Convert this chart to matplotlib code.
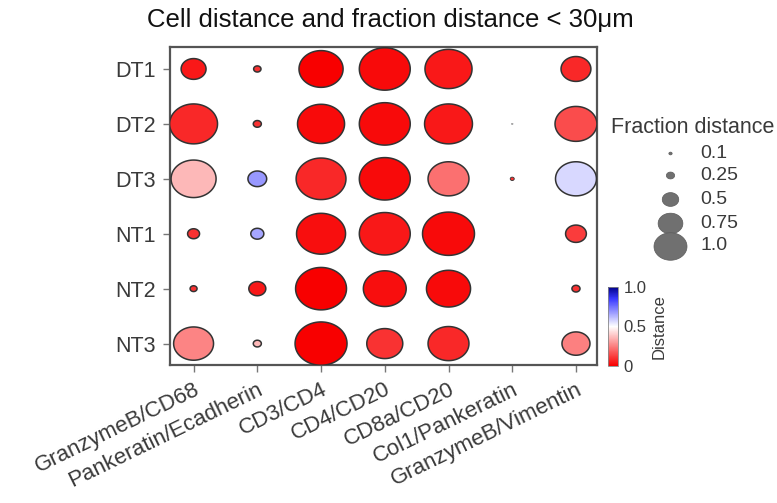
import numpy as np
import matplotlib
matplotlib.use("Agg")
import matplotlib.pyplot as plt
from matplotlib.path import Path
from matplotlib.colors import LinearSegmentedColormap, Normalize
from matplotlib.colorbar import ColorbarBase

plt.rcParams['font.family'] = ['Liberation Sans', 'DejaVu Sans']

pairs = ["GranzymeB/CD68", "Pankeratin/Ecadherin", "CD3/CD4", "CD4/CD20",
         "CD8a/CD20", "Col1/Pankeratin", "GranzymeB/Vimentin"]
samples = ["DT1", "DT2", "DT3", "NT1", "NT2", "NT3"]

# fraction of cells within 30 µm (marker size), rows = samples, cols = pairs
fraction = [
    [0.23, 0.020, 0.72, 0.96, 0.82, 0.000, 0.33],
    [0.85, 0.024, 0.82, 0.96, 0.85, 0.001, 0.65],
    [0.75, 0.130, 0.92, 0.96, 0.62, 0.006, 0.62],
    [0.053, 0.063, 0.89, 0.96, 1.00, 0.000, 0.16],
    [0.018, 0.107, 0.96, 0.68, 0.72, 0.000, 0.024],
    [0.59, 0.024, 1.00, 0.48, 0.62, 0.000, 0.29],
]
# normalised distance (marker colour)
distance = [
    [0.05, 0.10, 0.00, 0.02, 0.05, 0.50, 0.08],
    [0.08, 0.10, 0.02, 0.02, 0.05, 0.50, 0.15],
    [0.36, 0.68, 0.08, 0.02, 0.22, 0.10, 0.57],
    [0.10, 0.66, 0.03, 0.05, 0.02, 0.50, 0.12],
    [0.10, 0.05, 0.00, 0.03, 0.02, 0.50, 0.10],
    [0.26, 0.36, 0.00, 0.10, 0.08, 0.50, 0.25],
]
legend_values = [0.1, 0.25, 0.5, 0.75, 1.0]
legend_labels = ["0.1", "0.25", "0.5", "0.75", "1.0"]

cmap = LinearSegmentedColormap.from_list(
    "rwb", [(0, "#f80000"), (0.5, "#ffffff"), (0.85, "#3a3aff"), (1.0, "#000088")])
norm = Normalize(0, 1)

# elliptical marker (reference is horizontally stretched)
t = np.linspace(0, 2 * np.pi, 100)
ell = Path(np.column_stack([np.cos(t), np.sin(t) / 1.2]), closed=True)

fig = plt.figure(figsize=(7.77, 5.03), dpi=100)
ax = fig.add_axes([170 / 777, 1 - 365 / 503, 427 / 777, 318 / 503])

frac = np.array(fraction)
dist = np.array(distance)
xs, ys, ss, cs, lws = [], [], [], [], []
for i, s in enumerate(samples):
    for j, p in enumerate(pairs):
        if frac[i, j] <= 0:
            continue
        xs.append(j)
        ys.append(i)
        ss.append(frac[i, j] * 1400)
        cs.append(dist[i, j])
        lws.append(float(np.clip(np.sqrt(frac[i, j]) * 8, 0.1, 1.1)))
ax.scatter(xs, ys, s=ss, c=cs, cmap=cmap, norm=norm, marker=ell,
           edgecolors="#333333", linewidths=lws, zorder=3)

ax.set_xlim(-0.37, 6.33)
ax.set_ylim(5.39, -0.4)
ax.set_xticks(range(len(pairs)))
ax.set_xticklabels(pairs, rotation=26, ha="right", rotation_mode="anchor",
                   fontsize=16, color="#3a3a3a")
ax.set_yticks(range(len(samples)))
ax.set_yticklabels(samples, fontsize=15.5, color="#3a3a3a")
ax.tick_params(axis="both", length=5, width=1, color="#777777", pad=5)
for sp in ax.spines.values():
    sp.set_color("#555555")
    sp.set_linewidth(1.6)

fig.text(390 / 777, 1 - 20 / 503, "Cell distance and fraction distance < 30μm",
         ha="center", va="center", fontsize=18.5, color="#111111")

# colorbar
cax = fig.add_axes([608 / 777, 1 - 366 / 503, 10 / 777, 79 / 503])
cb = ColorbarBase(cax, cmap=cmap, norm=norm, ticks=[0, 0.5, 1.0])
cb.ax.set_yticklabels(["0", "0.5", "1.0"], fontsize=12, color="#3a3a3a")
cb.ax.tick_params(length=0, pad=4)
cb.outline.set_linewidth(0.6)
cb.outline.set_edgecolor("#888888")
cb.set_label("Distance", fontsize=12, color="#3a3a3a", labelpad=4)

# size legend
fig.text(693 / 777, 1 - 128 / 503, "Fraction distance", ha="center", va="center",
         fontsize=15.5, color="#3a3a3a")
ypos = [153, 175, 199, 223, 246]
lax = fig.add_axes([0, 0, 1, 1], facecolor="none")
lax.set_xlim(0, 777)
lax.set_ylim(503, 0)
lax.axis("off")
for v, lab, yy in zip(legend_values, legend_labels, ypos):
    d_pt = 33 * v * 0.72
    lax.scatter([670], [yy], s=d_pt ** 2, marker=ell, color="#707070",
                edgecolors="#5a5a5a", linewidths=0.5)
    lax.text(700, yy, lab, ha="left", va="center", fontsize=14, color="#3a3a3a")

fig.savefig("out.png", dpi=100)
